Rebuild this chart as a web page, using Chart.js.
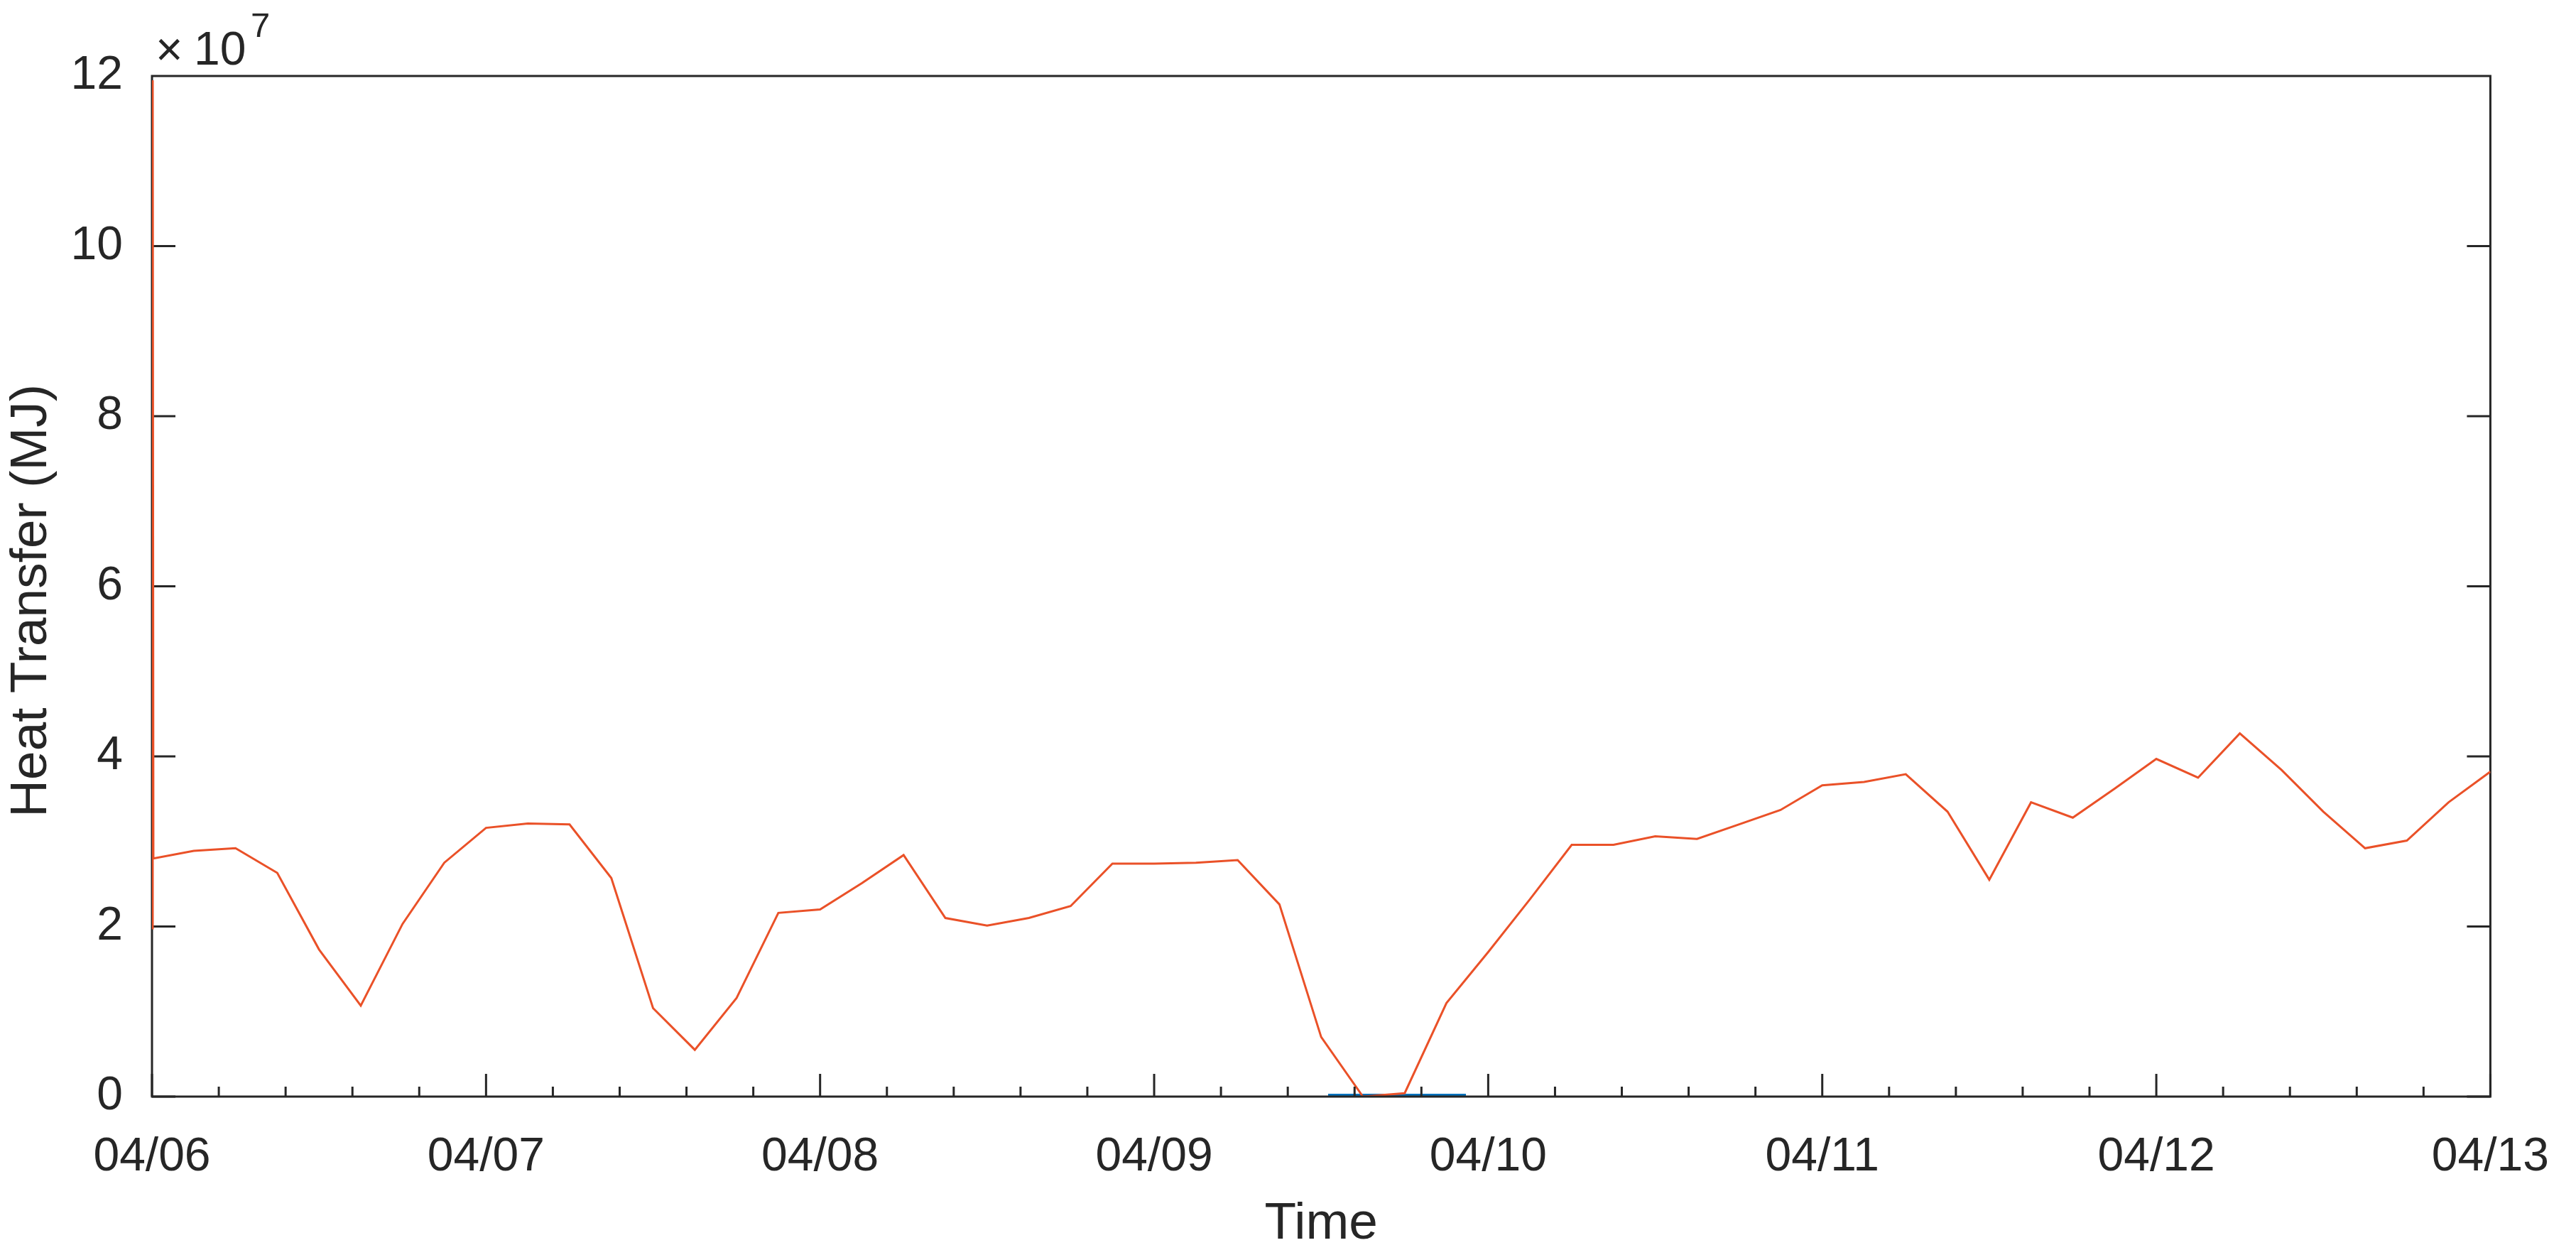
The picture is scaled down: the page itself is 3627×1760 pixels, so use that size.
<!DOCTYPE html>
<html>
<head>
<meta charset="utf-8">
<script src="https://cdn.jsdelivr.net/npm/chart.js@4.4.1/dist/chart.umd.min.js"></script>
<style>
  html, body { margin: 0; padding: 0; background: #fff; overflow: hidden; }
</style>
</head>
<body>
<canvas id="heatChart" width="3627" height="1760"></canvas>
<script>
// hours since 04/06 00:00
const hours = [0, 0.05, 0.1, 3, 6, 9, 12, 15, 18, 21, 24, 27, 30, 33, 36, 39, 42, 45, 48,
  51, 54, 57, 60, 63, 66, 69, 72, 75, 78, 81, 84, 87, 90, 93, 96, 99, 102, 105, 108,
  111, 114, 117, 120, 123, 126, 129, 132, 135, 138, 141, 144, 147, 150, 153, 156, 159, 162, 165, 168];

// heat transfer, in units of 10^7 MJ
const heatTransfer = [1.98, 11.95, 2.80, 2.89, 2.92, 2.63, 1.73, 1.07, 2.03, 2.75, 3.16, 3.21, 3.20,
  2.57, 1.04, 0.55, 1.16, 2.16, 2.20, 2.51, 2.84, 2.10, 2.01, 2.10, 2.24, 2.74, 2.74, 2.75,
  2.78, 2.26, 0.70, 0.00, 0.04, 1.10, 1.70, 2.32, 2.96, 2.96, 3.06, 3.03, 3.20, 3.37, 3.66,
  3.70, 3.79, 3.35, 2.55, 3.46, 3.28, 3.62, 3.97, 3.75, 4.27, 3.84, 3.35, 2.92, 3.01, 3.46, 3.82];

// second series, flat at zero
const zeroHours = [84.5, 94.4];
const zeroValues = [0, 0];

const dayLabels = ['04/06', '04/07', '04/08', '04/09', '04/10', '04/11', '04/12', '04/13'];
const yTicks = [0, 2, 4, 6, 8, 10, 12];

const axisColor = '#262626';
const fontFamily = '"Liberation Sans", Arial, Helvetica, sans-serif';

// MATLAB-style box with inward ticks
const axesBox = {
  id: 'axesBox',
  beforeDatasetsDraw(chart) {
    const {ctx, chartArea: a} = chart;
    const y = chart.scales.y;
    ctx.save();
    ctx.strokeStyle = axisColor;
    ctx.lineWidth = 3;
    ctx.beginPath();
    ctx.moveTo(a.left, a.bottom);
    ctx.lineTo(a.left, a.top);
    ctx.lineTo(a.right, a.top);
    ctx.lineTo(a.right, a.bottom);
    y.ticks.forEach(t => {
      const py = y.getPixelForValue(t.value);
      ctx.moveTo(a.left, py);
      ctx.lineTo(a.left + 33, py);
      ctx.moveTo(a.right, py);
      ctx.lineTo(a.right - 33, py);
    });
    ctx.stroke();
    ctx.restore();
  },
  afterDatasetsDraw(chart) {
    const {ctx, chartArea: a} = chart;
    const x = chart.scales.x;
    ctx.save();
    ctx.strokeStyle = axisColor;
    ctx.lineWidth = 3;
    ctx.beginPath();
    ctx.moveTo(a.left - 1.5, a.bottom);
    ctx.lineTo(a.right + 1.5, a.bottom);
    x.ticks.forEach(t => {
      const px = x.getPixelForValue(t.value);
      const d = t.value / 24;
      const major = Math.abs(d - Math.round(d)) < 1e-6;
      ctx.moveTo(px, a.bottom);
      ctx.lineTo(px, a.bottom - (major ? 32 : 14));
    });
    ctx.stroke();
    ctx.restore();
  },
  afterDraw(chart) {
    const {ctx} = chart;
    ctx.save();
    ctx.fillStyle = axisColor;
    ctx.textBaseline = 'alphabetic';
    ctx.font = '66px ' + fontFamily;
    ctx.fillText('\u00d7', 219, 92);
    ctx.fillText('10', 273, 91);
    ctx.font = '49px ' + fontFamily;
    ctx.fillText('7', 353, 52);
    ctx.restore();
  }
};

const ctx = document.getElementById('heatChart').getContext('2d');
new Chart(ctx, {
  type: 'line',
  data: {
    datasets: [{
      label: 'Heat Transfer',
      data: hours.map((h, i) => ({x: h, y: heatTransfer[i]})),
      borderColor: '#EA5128',
      borderWidth: 3,
      pointRadius: 0,
      tension: 0,
      order: 0
    }, {
      label: 'Zero',
      data: zeroHours.map((h, i) => ({x: h, y: zeroValues[i]})),
      borderColor: '#0072BD',
      borderWidth: 8,
      pointRadius: 0,
      order: 1
    }]
  },
  options: {
    responsive: false,
    animation: false,
    devicePixelRatio: 1,
    layout: { padding: { top: 107, right: 92, left: 0, bottom: 0 } },
    plugins: { legend: { display: false }, tooltip: { enabled: false } },
    scales: {
      x: {
        type: 'linear',
        min: 0,
        max: 168,
        afterFit: s => { s.height = 216; },
        grid: { display: false },
        border: { display: false },
        ticks: {
          stepSize: 4.8,
          autoSkip: false,
          maxRotation: 0,
          padding: 38,
          color: axisColor,
          font: { family: fontFamily, size: 66 },
          callback: v => {
            const d = v / 24;
            return Math.abs(d - Math.round(d)) < 1e-6 ? dayLabels[Math.round(d)] : '';
          }
        },
        title: {
          display: true,
          text: 'Time',
          color: axisColor,
          padding: { top: 0, bottom: 0 },
          font: { family: fontFamily, size: 73, lineHeight: 1 }
        }
      },
      y: {
        min: yTicks[0],
        max: yTicks[yTicks.length - 1],
        afterFit: s => { s.width = 214; },
        grid: { display: false },
        border: { display: false },
        ticks: {
          stepSize: 2,
          padding: 33,
          color: axisColor,
          font: { family: fontFamily, size: 66 }
        },
        title: {
          display: true,
          // trailing spaces nudge the rotated label down a little
          text: 'Heat Transfer (MJ)\u00a0\u00a0',
          color: axisColor,
          padding: { top: 8, bottom: 0 },
          font: { family: fontFamily, size: 73, lineHeight: 1 }
        }
      }
    }
  },
  plugins: [axesBox]
});
</script>
</body>
</html>
